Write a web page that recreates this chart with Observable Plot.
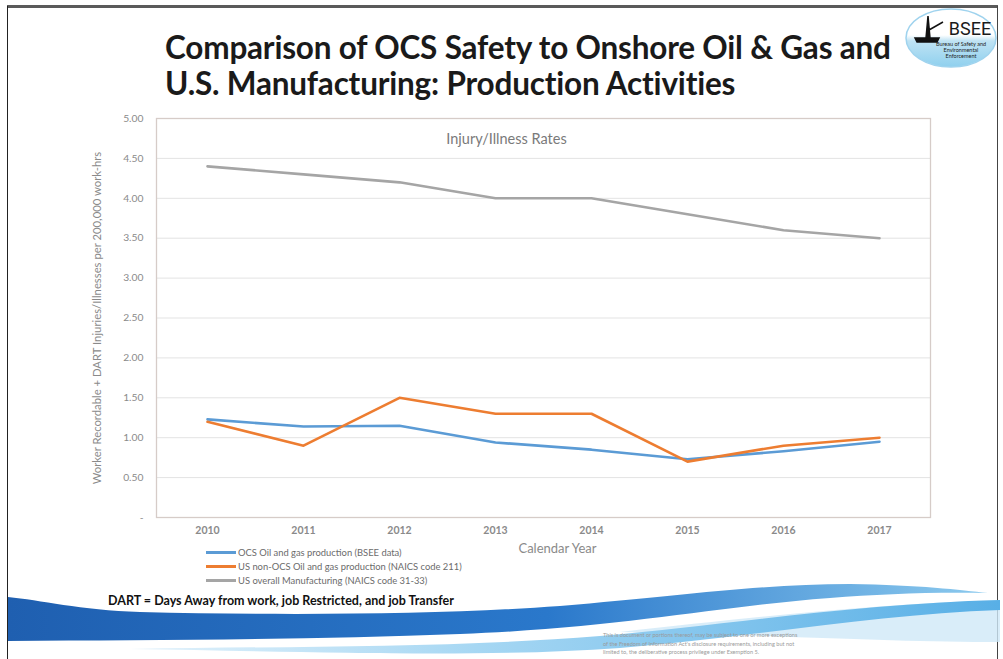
<!DOCTYPE html>
<html>
<head>
<meta charset="utf-8">
<script src="https://cdn.jsdelivr.net/npm/d3@7"></script>
<script src="https://cdn.jsdelivr.net/npm/@observablehq/plot@0.6"></script>
<style>
  html, body { margin: 0; padding: 0; background: #fff; }
  #slide { position: relative; width: 1003px; height: 659px; overflow: hidden; background: #fff; font-family: Lato, "Open Sans", sans-serif; }
  .abs { position: absolute; white-space: nowrap; }
  #title { left: 165px; top: 29px; font-size: 31.5px; font-weight: 700; color: #1a1a1a; line-height: 36px; letter-spacing: -0.2px; }
  #legend div { display: flex; align-items: center; height: 14px; font-size: 9.4px; color: #6b6b6b; }
  #legend span.sw { display: inline-block; width: 30px; height: 3px; margin-right: 2px; }
  #dart { left: 108px; top: 593px; font-size: 12.5px; font-weight: 700; color: #111; }
  #foia { left: 603px; top: 631px; font-size: 5.6px; line-height: 8.5px; color: #9a9a9a; }
  #chart { position: absolute; left: 0; top: 100px; }
</style>
</head>
<body>
<div id="slide">
  <svg class="abs" width="1003" height="659" style="left:0;top:0">
    <defs>
      <linearGradient id="gDark" x1="0" x2="1" y1="0" y2="0">
        <stop offset="0" stop-color="#1f5fb0"/>
        <stop offset="0.55" stop-color="#2a78cb"/>
        <stop offset="1" stop-color="#8ccaee"/>
      </linearGradient>
      <linearGradient id="gLight" x1="0" x2="1" y1="0" y2="0">
        <stop offset="0" stop-color="#e3f2fb"/>
        <stop offset="0.4" stop-color="#a6d7f3"/>
        <stop offset="1" stop-color="#58afe6"/>
      </linearGradient>
      <linearGradient id="gLogo" x1="0" x2="0" y1="0" y2="1">
        <stop offset="0.45" stop-color="#ffffff"/>
        <stop offset="0.55" stop-color="#bfe3f4"/>
        <stop offset="1" stop-color="#8fd0ee"/>
      </linearGradient>
    </defs>
    <!-- slide frame -->
    <rect x="7" y="5" width="991" height="3" fill="#5a5a5a"/>
    <line x1="7.5" y1="6" x2="7.5" y2="659" stroke="#222" stroke-width="1"/>
    <line x1="997.5" y1="6" x2="997.5" y2="659" stroke="#444" stroke-width="1"/>
    <!-- decorative waves -->
    <path d="M620,632 C760,616 880,604 1000,600 L1000,642 C900,642 800,636 620,632 Z" fill="#cfe9f8" opacity="0.8"/>
    <path d="M130,649 C300,646 450,648 600,636 C720,626 850,604 1000,600 L1000,610 C880,614 760,636 620,648 C480,658 320,652 130,649 Z" fill="url(#gLight)"/>
    <path d="M8,597 C40,600 80,610 140,612 C300,616 450,614 560,606 C680,596 760,584 850,584 C920,585 960,590 988,593 C930,592 880,594 830,598 C720,606 620,628 460,634 C300,640 150,640 8,641 Z" fill="url(#gDark)"/>
    <!-- logo -->
    <ellipse cx="951" cy="38" rx="45" ry="29" fill="url(#gLogo)" stroke="#9fd3ee" stroke-width="1.5"/>
    <path d="M915,38 L939,38 L937,42 L917,42 Z M926,38 L928,16 L930,38 Z M929,30 L943,22" fill="#111" stroke="#111" stroke-width="1.5"/>
    <text x="970" y="35" text-anchor="middle" font-family="Roboto, sans-serif" font-size="18" fill="#1a1a1a">BSEE</text>
    <text x="961" y="46" text-anchor="middle" font-family="Lato, sans-serif" font-size="5.5" fill="#222">Bureau of Safety and</text>
    <text x="961" y="52" text-anchor="middle" font-family="Lato, sans-serif" font-size="5.5" fill="#222">Environmental</text>
    <text x="961" y="58" text-anchor="middle" font-family="Lato, sans-serif" font-size="5.5" fill="#222">Enforcement</text>
  </svg>
  <div id="title" class="abs">Comparison of OCS Safety to Onshore Oil &amp; Gas and<br>U.S. Manufacturing: Production Activities</div>
  <div id="chart"></div>
  <div class="abs" style="left:0;width:1013px;top:130px;text-align:center;font-size:14.5px;color:#7a7a7a;">Injury/Illness Rates</div>
  <div id="legend" class="abs" style="left:206px;top:545px;"></div>
  <div id="dart" class="abs">DART = Days Away from work, job Restricted, and job Transfer</div>
  <div id="foia" class="abs">This is document or portions thereof, may be subject to one or more exceptions<br>of the Freedom of Information Act's disclosure requirements, including but not<br>limited to, the deliberative process privilege under Exemption 5.</div>
</div>
<script>
const years = ["2010", "2011", "2012", "2013", "2014", "2015", "2016", "2017"];
const seriesNames = [
  "OCS Oil and gas production (BSEE data)",
  "US non-OCS Oil and gas production (NAICS code 211)",
  "US overall Manufacturing (NAICS code 31-33)"
];
const seriesColors = ["#5b9bd5", "#ed7d31", "#a5a5a5"];
const ocsValues = [1.23, 1.14, 1.15, 0.94, 0.85, 0.73, 0.83, 0.95];
const onshoreValues = [1.20, 0.90, 1.50, 1.30, 1.30, 0.70, 0.90, 1.00];
const manufValues = [4.40, 4.30, 4.20, 4.00, 4.00, 3.80, 3.60, 3.50];
const yTicks = [0, 0.5, 1, 1.5, 2, 2.5, 3, 3.5, 4, 4.5, 5];

const allSeries = [ocsValues, onshoreValues, manufValues];
const rows = [];
allSeries.forEach((vals, i) => {
  vals.forEach((v, j) => rows.push({year: years[j], value: v, series: seriesNames[i]}));
});

const chart = Plot.plot({
  width: 1003,
  height: 500,
  marginLeft: 156,
  marginRight: 73,
  marginTop: 18,
  marginBottom: 83,
  style: {fontFamily: "Lato, 'Open Sans', sans-serif", background: "transparent"},
  x: {type: "point", domain: years, padding: 0.5},
  y: {domain: [0, 5]},
  color: {domain: seriesNames, range: seriesColors},
  marks: [
    Plot.gridY(yTicks, {stroke: "#e3e3e3", strokeOpacity: 1, strokeWidth: 1}),
    Plot.frame({stroke: "#d6ccc8", strokeWidth: 1.3}),
    Plot.axisY(yTicks, {
      tickSize: 0, tickPadding: 13, fontSize: 10.3, fill: "#8a8a8a",
      tickFormat: d => d === 0 ? "-" : d.toFixed(2),
      label: "Worker Recordable + DART Injuries/Illnesses per 200,000 work-hrs",
      labelAnchor: "center", labelOffset: 64, labelArrow: "none"
    }),
    Plot.axisX({
      tickSize: 0, tickPadding: 9, fontSize: 10.5, fill: "#8a8a8a", fontWeight: "bold",
      label: "Calendar Year", labelAnchor: "center", labelOffset: 35, labelArrow: "none"
    }),
    Plot.line(rows, {x: "year", y: "value", z: "series", stroke: "series", strokeWidth: 2.6})
  ]
});
document.getElementById("chart").appendChild(chart);

// style axis labels
chart.querySelectorAll("g[aria-label='y-axis label'] text, g[aria-label='x-axis label'] text").forEach(t => {
  t.setAttribute("fill", "#8a8a8a");
  t.setAttribute("font-weight", "normal");
});
const yl = chart.querySelector("g[aria-label='y-axis label']");
if (yl) yl.setAttribute("font-size", "11.3");
const xl = chart.querySelector("g[aria-label='x-axis label']");
if (xl) {
  xl.setAttribute("font-size", "13");
  xl.setAttribute("font-weight", "normal");
  xl.setAttribute("transform", (xl.getAttribute("transform") || "") + " translate(14,0)");
}

const legend = document.getElementById("legend");
seriesNames.forEach((name, i) => {
  const row = document.createElement("div");
  const sw = document.createElement("span");
  sw.className = "sw";
  sw.style.background = seriesColors[i];
  row.appendChild(sw);
  row.appendChild(document.createTextNode(name));
  legend.appendChild(row);
});
</script>
</body>
</html>
